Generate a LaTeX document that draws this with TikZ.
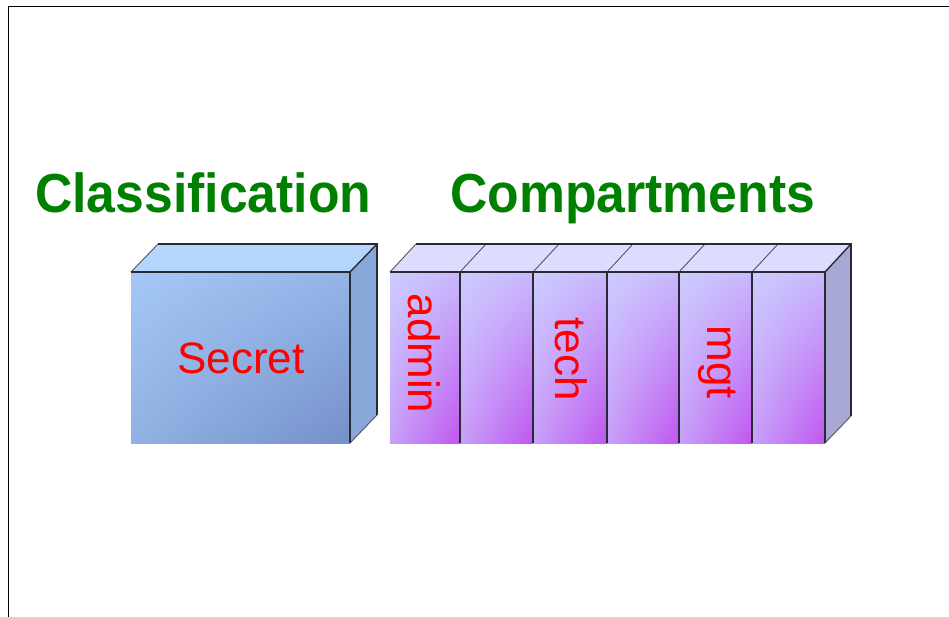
\documentclass[tikz,border=0pt]{standalone}
\usepackage{fontspec}
\setmainfont{Liberation Sans}
\usetikzlibrary{shadings}
\definecolor{titlegreen}{HTML}{008000}
\definecolor{edge}{HTML}{2A2A36}
\definecolor{secUL}{HTML}{A4C8F6}
\definecolor{secUR}{HTML}{94B4E6}
\definecolor{secLL}{HTML}{90B2E2}
\definecolor{secLR}{HTML}{7490CA}
\definecolor{secTop}{HTML}{B4D6FC}
\definecolor{secSide}{HTML}{88A8DA}
\definecolor{cmpUL}{HTML}{CCCCFF}
\definecolor{cmpUR}{HTML}{C8B8FC}
\definecolor{cmpLL}{HTML}{C8A0F8}
\definecolor{cmpLR}{HTML}{C056F0}
\definecolor{cmpTop}{HTML}{DCDCFF}
\definecolor{cmpSide}{HTML}{A8A8D4}
\tikzset{
  edgeline/.style={draw=edge, line width=1.4pt},
  softline/.style={draw=edge!80, line width=0.9pt},
  titletext/.style={inner sep=0pt, anchor=base west, text=titlegreen, xscale=0.94,
    font=\fontsize{55}{60}\selectfont\bfseries},
  boxlabel/.style={inner sep=0pt, anchor=base, text=red, font=\fontsize{44}{48}\selectfont},
  vlabel/.style={boxlabel, rotate=-90},
  panel/.style={upper left=cmpUL, upper right=cmpUR, lower left=cmpLL, lower right=cmpLR}
}
\begin{document}
\begin{tikzpicture}[x=1pt,y=-1pt]
\useasboundingbox (0,0) rectangle (949,617);
\fill[white] (0,0) rectangle (949,617);
% frame
\draw[line width=1pt, black] (949,7) -- (8,7) -- (8,617);

% titles
\node[titletext] (classif) at (35,213) {Classification};
\node[titletext] (compart) at (450,213) {Compartments};

% ---------------- Secret box
\coordinate (s1) at (131,272);
\coordinate (s2) at (350,272);
\coordinate (s3) at (350,443);
\coordinate (s4) at (131,443);
\coordinate (s5) at (158,244);
\coordinate (s6) at (377,244);
\coordinate (s7) at (377,415);
\shade[upper left=secUL, upper right=secUR, lower left=secLL, lower right=secLR] (s1) rectangle (s3);
\fill[secTop] (s1) -- (s5) -- (s6) -- (s2) -- cycle;
\fill[secSide] (s2) -- (s6) -- (s7) -- (s3) -- cycle;
\draw[softline] (s1) -- (s5);
\draw[softline] (s3) -- (s7);
\draw[edgeline] (s5) -- (s6) -- (s7);
\draw[edgeline] (s1) -- (s2) -- (s3);
\draw[edgeline] (s2) -- (s6);
\node[boxlabel] (secret) at (241,373) {Secret};

% ---------------- Compartments box
\coordinate (c1) at (390,272);
\coordinate (c2) at (825,272);
\coordinate (c3) at (825,443);
\coordinate (c4) at (390,443);
\coordinate (c5) at (416,244);
\coordinate (c6) at (851,244);
\coordinate (c7) at (851,416);
\foreach \xa/\xb in {390/460, 460/533, 533/607, 607/679, 679/752, 752/825}{
  \shade[panel] (\xa,272) rectangle (\xb,443);
}
\fill[cmpTop] (c1) -- (c5) -- (c6) -- (c2) -- cycle;
\fill[cmpSide] (c2) -- (c6) -- (c7) -- (c3) -- cycle;
\draw[softline] (c1) -- (c5);
\draw[softline] (c3) -- (c7);
\foreach \xd in {460,533,607,679,752}{
  \draw[softline] (\xd,272) -- ++(26,-28);
  \draw[edgeline] (\xd,272) -- (\xd,443);
}
\draw[edgeline] (c5) -- (c6) -- (c7);
\draw[edgeline] (c1) -- (c2) -- (c3);
\draw[edgeline] (c2) -- (c6);

\node[vlabel] (admin) at (408,353.5) {admin};
\node[vlabel] (tech) at (555,359) {tech};
\node[vlabel] (mgt) at (707,362.5) {mgt};
\end{tikzpicture}
\end{document}
